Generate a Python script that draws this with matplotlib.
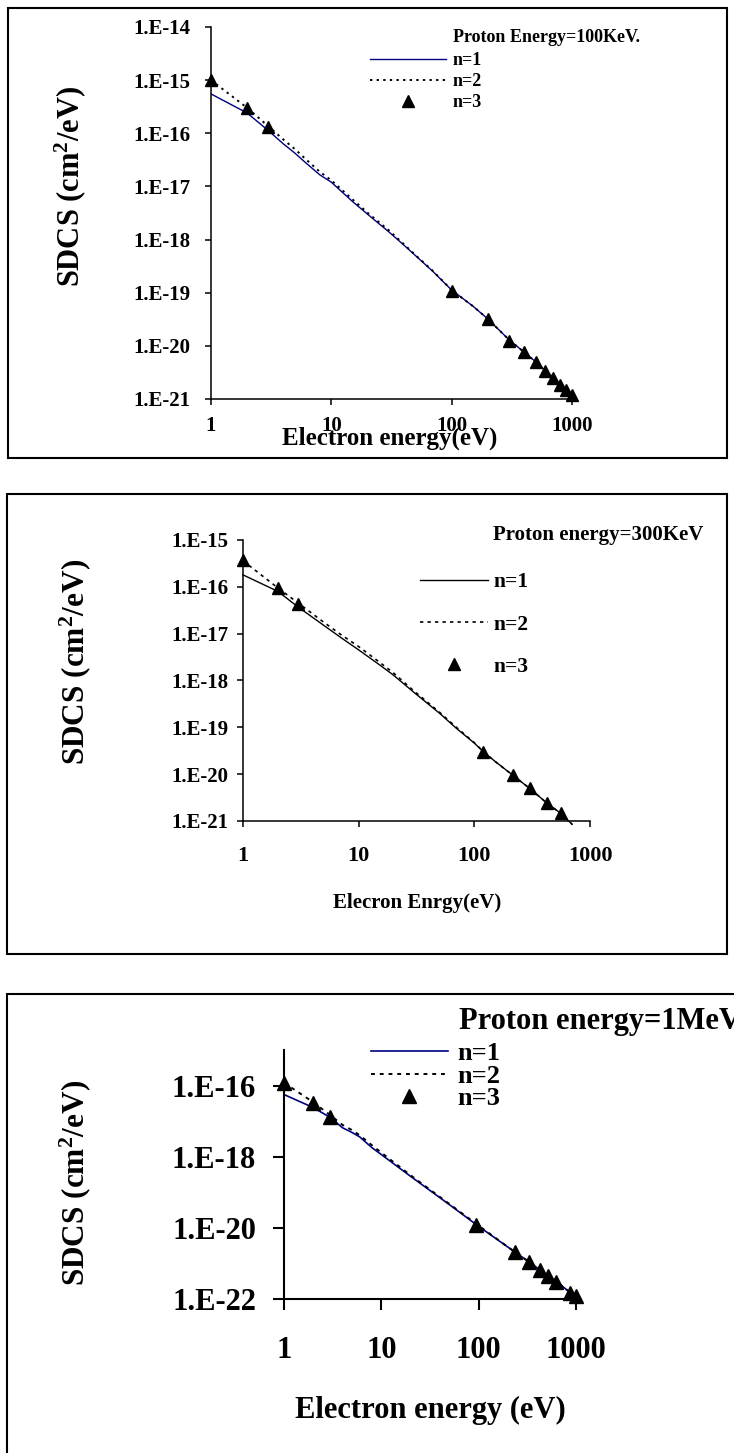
import matplotlib
matplotlib.use('Agg')
import numpy as np
import matplotlib.pyplot as plt
from matplotlib.ticker import FixedLocator, FuncFormatter, NullLocator
from matplotlib.patches import Rectangle

plt.rcParams['font.family'] = ['Liberation Serif', 'DejaVu Serif']
plt.rcParams['font.weight'] = 'bold'
plt.rcParams['axes.labelweight'] = 'bold'
plt.rcParams['mathtext.fontset'] = 'custom'
plt.rcParams['mathtext.rm'] = 'Liberation Serif:bold'
plt.rcParams['mathtext.default'] = 'rm'

# ---- data: proton energy 100 keV ----
e1_a = [1, 2, 3, 4, 5, 6, 8, 10, 15, 20, 30, 40, 50, 70, 100, 150, 200, 300,
        400, 500, 600, 700, 800, 900, 1000]
n1_a = [5.5e-16, 2.4e-16, 1.12e-16, 6.3e-17, 4.2e-17, 2.9e-17, 1.66e-17, 1.2e-17,
        5.2e-18, 3.0e-18, 1.4e-18, 7.9e-19, 5.0e-19, 2.5e-19, 1.12e-19, 5.6e-20,
        3.2e-20, 1.3e-20, 7.6e-21, 5.0e-21, 3.4e-21, 2.5e-21, 1.8e-21, 1.45e-21, 1.17e-21]
n2_a = [1.0e-15, 3.0e-16, 1.35e-16, 7.6e-17, 5.0e-17, 3.4e-17, 1.9e-17, 1.3e-17,
        5.7e-18, 3.2e-18, 1.5e-18, 8.2e-19, 5.1e-19, 2.55e-19, 1.12e-19, 5.6e-20,
        3.2e-20, 1.3e-20, 7.6e-21, 5.0e-21, 3.4e-21, 2.5e-21, 1.8e-21, 1.45e-21, 1.17e-21]
e3_a = [1, 2, 3, 100, 200, 300, 400, 500, 600, 700, 800, 900, 1000]
n3_a = [1.0e-15, 3.0e-16, 1.3e-16, 1.1e-19, 3.2e-20, 1.25e-20, 7.6e-21, 5.0e-21,
        3.4e-21, 2.5e-21, 1.8e-21, 1.45e-21, 1.2e-21]

# ---- data: proton energy 300 keV ----
e1_b = [1, 2, 3, 5, 7, 10, 15, 20, 30, 50, 70, 100, 120, 150, 215, 300, 425, 560, 700]
n1_b = [1.8e-16, 8.0e-17, 3.7e-17, 1.5e-17, 8.3e-18, 4.5e-18, 2.2e-18, 1.3e-18,
        5.6e-19, 2.0e-19, 9.5e-20, 4.6e-20, 3.0e-20, 1.9e-20, 9.5e-21, 5.0e-21,
        2.4e-21, 1.45e-21, 8.5e-22]
n2_b = [3.6e-16, 9.5e-17, 4.5e-17, 1.75e-17, 9.6e-18, 5.3e-18, 2.5e-18, 1.45e-18,
        6.0e-19, 2.1e-19, 1.0e-19, 4.7e-20, 3.0e-20, 1.9e-20, 9.5e-21, 5.0e-21,
        2.4e-21, 1.45e-21, 8.5e-22]
e3_b = [1, 2, 3, 118, 215, 300, 425, 560]
n3_b = [3.7e-16, 9.3e-17, 4.3e-17, 3.0e-20, 9.5e-21, 5.0e-21, 2.4e-21, 1.45e-21]

# ---- data: proton energy 1 MeV ----
e1_c = [1, 2, 3, 4, 5, 6, 8, 10, 20, 50, 100, 235, 330, 425, 520, 630, 875, 1000]
n1_c = [5.6e-17, 2.4e-17, 1.26e-17, 6.5e-18, 4.8e-18, 3.6e-18, 1.8e-18, 1.15e-18,
        2.8e-19, 4.5e-20, 1.1e-20, 2.1e-21, 1.1e-21, 6.6e-22, 4.3e-22, 3.1e-22,
        1.5e-22, 1.2e-22]
n2_c = [1.2e-16, 3.4e-17, 1.45e-17, 7.8e-18, 5.6e-18, 4.0e-18, 2.1e-18, 1.3e-18,
        3.0e-19, 4.7e-20, 1.15e-20, 2.1e-21, 1.1e-21, 6.6e-22, 4.3e-22, 3.1e-22,
        1.5e-22, 1.2e-22]
e3_c = [1, 2, 3, 95, 235, 330, 425, 520, 630, 875, 1000]
n3_c = [1.2e-16, 3.3e-17, 1.35e-17, 1.2e-20, 2.1e-21, 1.1e-21, 6.6e-22, 4.3e-22,
        3.1e-22, 1.5e-22, 1.2e-22]

x_ticks = [1, 10, 100, 1000]
ylabel = 'SDCS (cm$^2$/eV)'
labels = ['n=1', 'n=2', 'n=3']

W, H = 734, 1453
fig = plt.figure(figsize=(W / 100, H / 100), dpi=100)


def fx(x, y):
    return x / W, 1 - y / H


def box(x0, y0, x1, y1):
    fig.patches.append(Rectangle(fx(x0, y1), (x1 - x0) / W, (y1 - y0) / H,
                                 transform=fig.transFigure, fill=False,
                                 lw=1.5, ec='black'))


def make_axes(l, t, r, b, ylim, yticks, lw):
    x0, y0 = fx(l, b)
    ax = fig.add_axes([x0, y0, (r - l) / W, (b - t) / H])
    ax.set_xscale('log')
    ax.set_yscale('log')
    ax.set_xlim(1, 1000)
    ax.set_ylim(*ylim)
    ax.xaxis.set_major_locator(FixedLocator(x_ticks))
    ax.xaxis.set_minor_locator(NullLocator())
    ax.yaxis.set_major_locator(FixedLocator(yticks))
    ax.yaxis.set_minor_locator(NullLocator())
    ax.xaxis.set_major_formatter(FuncFormatter(lambda v, p: '%d' % round(v)))
    ax.yaxis.set_major_formatter(
        FuncFormatter(lambda v, p: '1.E%d' % round(np.log10(v))))
    for s in ['top', 'right']:
        ax.spines[s].set_visible(False)
    for s in ['left', 'bottom']:
        ax.spines[s].set_linewidth(lw)
    return ax


# ================= panel 1 =================
box(8, 8, 727, 458)
ax = make_axes(211, 27, 572, 399, (1e-21, 1e-14),
               [10.0 ** k for k in range(-21, -13)], 1.1)
ax.plot(e1_a, n1_a, color='#000080', lw=1.0, label=labels[0])
ax.plot(e1_a, n2_a, color='black', lw=1.4, ls=(0, (1.2, 2.2)), label=labels[1])
ax.plot(e3_a, n3_a, ls='none', marker='^', ms=9, color='black', clip_on=False,
        label=labels[2])
ax.tick_params(axis='both', direction='out', length=4.3, width=1.1)
ax.tick_params(axis='y', labelsize=15, pad=10.5)
ax.tick_params(axis='x', labelsize=15, pad=8)
ax.set_xlabel('Electron energy(eV)', fontsize=18, va='center')
ax.xaxis.set_label_coords(*fx(390, 438), transform=fig.transFigure)
ax.set_ylabel(ylabel, fontsize=22, va='center')
ax.yaxis.set_label_coords(*fx(70, 186), transform=fig.transFigure)
ax.legend(loc='upper left', bbox_to_anchor=fx(370, 52), bbox_transform=fig.transFigure,
          frameon=False, borderpad=0, borderaxespad=0, fontsize=13,
          handlelength=4.2, handletextpad=0.4, labelspacing=0.23)
fig.text(*fx(453, 38), 'Proton Energy=100KeV.', fontsize=13, va='center', ha='left')

# ================= panel 2 =================
box(7, 494, 727, 954)
ax = make_axes(243, 540, 590, 821, (1e-21, 1e-15),
               [10.0 ** k for k in range(-21, -14)], 1.1)
ax.plot(e1_b, n1_b, color='black', lw=1.0, clip_on=False, label=labels[0])
ax.plot(e1_b, n2_b, color='black', lw=1.2, ls=(0, (2, 2.5)), clip_on=False,
        label=labels[1])
ax.plot(e3_b, n3_b, ls='none', marker='^', ms=8.5, color='black', clip_on=False,
        label=labels[2])
ax.tick_params(axis='both', direction='out', length=4.3, width=1.1)
ax.tick_params(axis='y', labelsize=15, pad=6)
ax.tick_params(axis='x', labelsize=16, pad=14)
ax.set_xlabel('Elecron Enrgy(eV)', fontsize=15, va='center')
ax.xaxis.set_label_coords(*fx(417, 903), transform=fig.transFigure)
ax.set_ylabel(ylabel, fontsize=22.5, va='center')
ax.yaxis.set_label_coords(*fx(75, 662), transform=fig.transFigure)
ax.legend(loc='upper left', bbox_to_anchor=fx(420, 572), bbox_transform=fig.transFigure,
          frameon=False, borderpad=0, borderaxespad=0, fontsize=15.5,
          handlelength=3.16, handletextpad=0.23, labelspacing=1.04)
fig.text(*fx(493, 535), 'Proton energy=300KeV', fontsize=15, va='center', ha='left')

# ================= panel 3 =================
box(7, 994, 760, 1480)
ax = make_axes(284, 1050, 576, 1299, (1e-22, 1e-15),
               [1e-22, 1e-20, 1e-18, 1e-16], 1.5)
ax.plot(e1_c, n1_c, color='#000080', lw=1.2, label=labels[0])
ax.plot(e1_c, n2_c, color='black', lw=1.4, ls=(0, (2, 2.5)), label=labels[1])
ax.plot(e3_c, n3_c, ls='none', marker='^', ms=10, color='black', clip_on=False,
        label=labels[2])
ax.tick_params(axis='both', direction='out', length=8, width=1.5)
ax.tick_params(axis='y', labelsize=22, pad=12)
ax.tick_params(axis='x', labelsize=22, pad=19)
ax.set_xlabel('Electron energy (eV)', fontsize=22, va='center')
ax.xaxis.set_label_coords(*fx(430, 1410), transform=fig.transFigure)
ax.set_ylabel(ylabel, fontsize=22.5, va='center')
ax.yaxis.set_label_coords(*fx(75, 1183), transform=fig.transFigure)
ax.legend(loc='upper left', bbox_to_anchor=fx(371, 1042), bbox_transform=fig.transFigure,
          frameon=False, borderpad=0, borderaxespad=0, fontsize=19,
          handlelength=2.9, handletextpad=0.38, labelspacing=-0.04)
fig.text(*fx(459, 1022), 'Proton energy=1MeV', fontsize=22, va='center', ha='left')

fig.savefig('out.png', dpi=100)
